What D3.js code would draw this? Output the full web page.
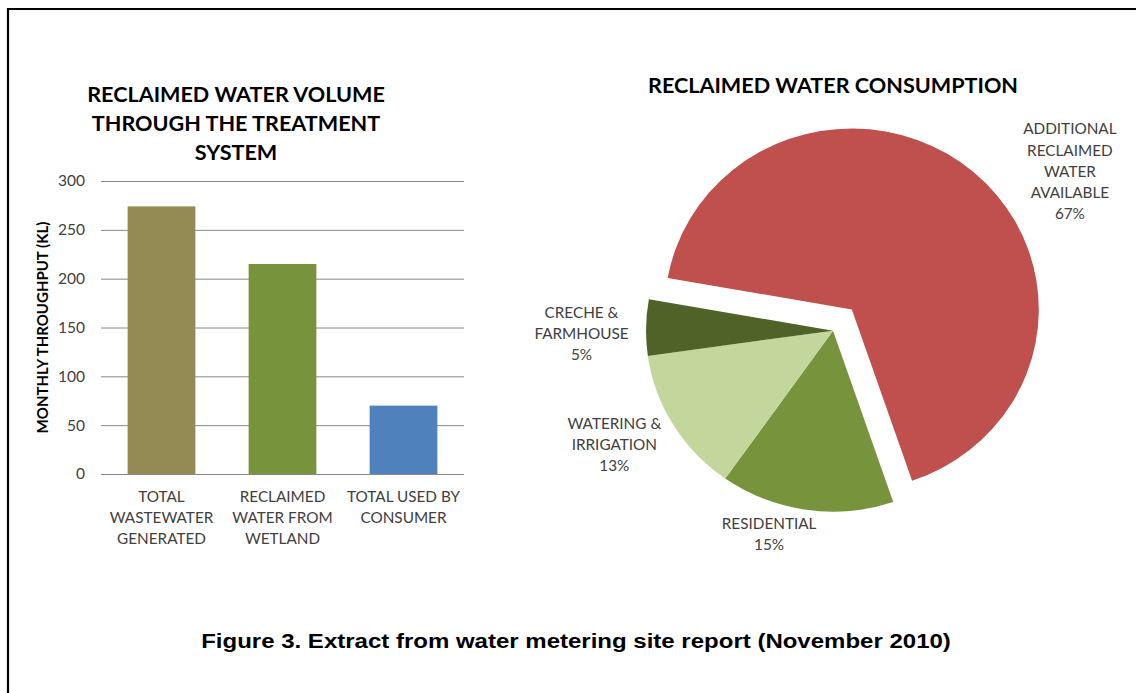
<!DOCTYPE html>
<html>
<head>
<meta charset="utf-8">
<script src="https://cdn.jsdelivr.net/npm/d3@7"></script>
<style>
  html, body { margin: 0; padding: 0; background: #fff; }
  svg { display: block; }
  text { font-family: Lato, "Open Sans", sans-serif; }
</style>
</head>
<body>
<div id="chart"></div>
<script>
// bar chart data
const barTitle = ['RECLAIMED WATER VOLUME', 'THROUGH THE TREATMENT', 'SYSTEM'];
const barCategories = [
  ['TOTAL', 'WASTEWATER', 'GENERATED'],
  ['RECLAIMED', 'WATER FROM', 'WETLAND'],
  ['TOTAL USED BY', 'CONSUMER']
];
const barValues = [274, 215, 70];
const yTicks = [0, 50, 100, 150, 200, 250, 300];
const yLabel = 'MONTHLY THROUGHPUT (KL)';

// pie chart data
const pieTitle = 'RECLAIMED WATER CONSUMPTION';
const pieNames = [
  ['ADDITIONAL', 'RECLAIMED', 'WATER', 'AVAILABLE'],
  ['RESIDENTIAL'],
  ['WATERING &', 'IRRIGATION'],
  ['CRECHE &', 'FARMHOUSE']
];
const pieValues = [67, 15, 13, 5];

const caption = 'Figure 3. Extract from water metering site report (November 2010)';

const barColors = ['#948a54', '#77933c', '#4f81bd'];
const pieColors = ['#c0504d', '#77933c', '#c3d69b', '#4f6228'];

const W = 1136, H = 693;
const svg = d3.select('#chart').append('svg')
  .attr('width', W)
  .attr('height', H);

// frame (only top and left edges are inside the picture)
svg.append('path')
  .attr('d', 'M8,' + H + 'V9H' + W)
  .attr('fill', 'none')
  .attr('stroke', '#000')
  .attr('stroke-width', 2.2);

// ---------- bar chart ----------
const plot = { left: 101, right: 464, top: 181, bottom: 474 };

const x = d3.scaleBand()
  .domain(d3.range(barValues.length))
  .range([plot.left, plot.right])
  .paddingInner(0.44)
  .paddingOuter(0.22);
const y = d3.scaleLinear().domain([0, 300]).range([plot.bottom, plot.top]);

const yAxis = d3.axisLeft(y)
  .tickValues(yTicks)
  .tickSize(-(plot.right - plot.left))
  .tickPadding(16);

svg.append('g')
  .attr('transform', 'translate(' + plot.left + ',0)')
  .call(yAxis)
  .call(g => g.select('.domain').remove())
  .call(g => g.selectAll('.tick line').attr('stroke', '#888').attr('stroke-width', 1))
  .call(g => g.selectAll('.tick text')
    .attr('fill', '#404040')
    .style('font-family', 'Lato, sans-serif')
    .style('font-size', '15.5px'));

svg.append('g')
  .selectAll('rect')
  .data(barValues)
  .enter()
  .append('rect')
  .attr('x', (d, i) => x(i))
  .attr('y', d => y(d))
  .attr('width', x.bandwidth())
  .attr('height', d => y(0) - y(d))
  .attr('fill', (d, i) => barColors[i]);

// category labels
svg.append('g')
  .selectAll('text')
  .data(barCategories)
  .enter()
  .append('text')
  .attr('text-anchor', 'middle')
  .attr('fill', '#404040')
  .style('font-size', '15.3px')
  .each(function (lines, i) {
    d3.select(this).selectAll('tspan')
      .data(lines)
      .enter()
      .append('tspan')
      .attr('x', x(i) + x.bandwidth() / 2)
      .attr('y', (d, j) => y(0) + 23 + j * 21)
      .attr('dy', '0.35em')
      .text(d => d);
  });

// y axis title
svg.append('text')
  .attr('transform', 'translate(43,' + (plot.top + plot.bottom) / 2 + ') rotate(-90)')
  .attr('text-anchor', 'middle')
  .attr('dy', '0.35em')
  .attr('fill', '#000')
  .style('font-size', '15px')
  .style('font-weight', 'bold')
  .text(yLabel);

// bar title
svg.append('text')
  .attr('text-anchor', 'middle')
  .attr('fill', '#000')
  .style('font-size', '21.6px')
  .style('font-weight', 'bold')
  .selectAll('tspan')
  .data(barTitle)
  .enter()
  .append('tspan')
  .attr('x', 236)
  .attr('y', (d, i) => 94.3 + i * 29)
  .attr('dy', '0.35em')
  .text(d => d);

// ---------- pie chart ----------
const cx = 833, cy = 330.7, r = 181;
const explode = 28;

const pie = d3.pie()
  .sort(null)
  .startAngle(280 * Math.PI / 180)
  .endAngle(640 * Math.PI / 180);
const arcs = pie(pieValues);
const arc = d3.arc().innerRadius(0).outerRadius(r);

const pieG = svg.append('g')
  .attr('transform', 'translate(' + cx + ',' + cy + ') scale(1.033,1)');

pieG.selectAll('path')
  .data(arcs)
  .enter()
  .append('path')
  .attr('d', arc)
  .attr('fill', (d, i) => pieColors[i])
  .attr('transform', (d, i) => {
    if (i !== 0) return null;
    const mid = (d.startAngle + d.endAngle) / 2;
    return 'translate(' + explode * Math.sin(mid) + ',' + (-explode * Math.cos(mid)) + ')';
  });

svg.append('text')
  .attr('x', cx)
  .attr('y', 85.5)
  .attr('dy', '0.35em')
  .attr('text-anchor', 'middle')
  .attr('fill', '#000')
  .style('font-size', '21.6px')
  .style('font-weight', 'bold')
  .text(pieTitle);

// label placement around the pie: [angle in degrees, distance from centre]
const labelPolar = [[56.1, 285.4], [197.4, 213.6], [242.5, 246.5], [269.3, 251.5]];
const lineH = 21.2;

svg.append('g')
  .selectAll('text')
  .data(arcs)
  .enter()
  .append('text')
  .attr('text-anchor', 'middle')
  .attr('fill', '#404040')
  .style('font-size', '15.3px')
  .each(function (d, i) {
    const lines = pieNames[i].concat([Math.round(d.value / d3.sum(pieValues) * 100) + '%']);
    const a = labelPolar[i][0] * Math.PI / 180;
    const lx = cx + labelPolar[i][1] * Math.sin(a);
    const ly = cy - labelPolar[i][1] * Math.cos(a);
    d3.select(this).selectAll('tspan')
      .data(lines)
      .enter()
      .append('tspan')
      .attr('x', lx)
      .attr('y', (t, j) => ly + (j - (lines.length - 1) / 2) * lineH)
      .attr('dy', '0.35em')
      .text(t => t);
  });

// ---------- caption ----------
// the source caption is a little wider than plain Arial, so stretch it to its measured width
const capText = svg.append('text')
  .attr('x', 0)
  .attr('y', 0)
  .attr('dy', '0.35em')
  .attr('text-anchor', 'middle')
  .attr('fill', '#000')
  .style('font-family', '"Liberation Sans", Arial, sans-serif')
  .style('font-size', '21px')
  .style('font-weight', 'bold')
  .text(caption);
const capLen = capText.node().getComputedTextLength();
capText.attr('transform', 'translate(576,641) scale(' + (750 / capLen) + ',1)');
</script>
</body>
</html>
